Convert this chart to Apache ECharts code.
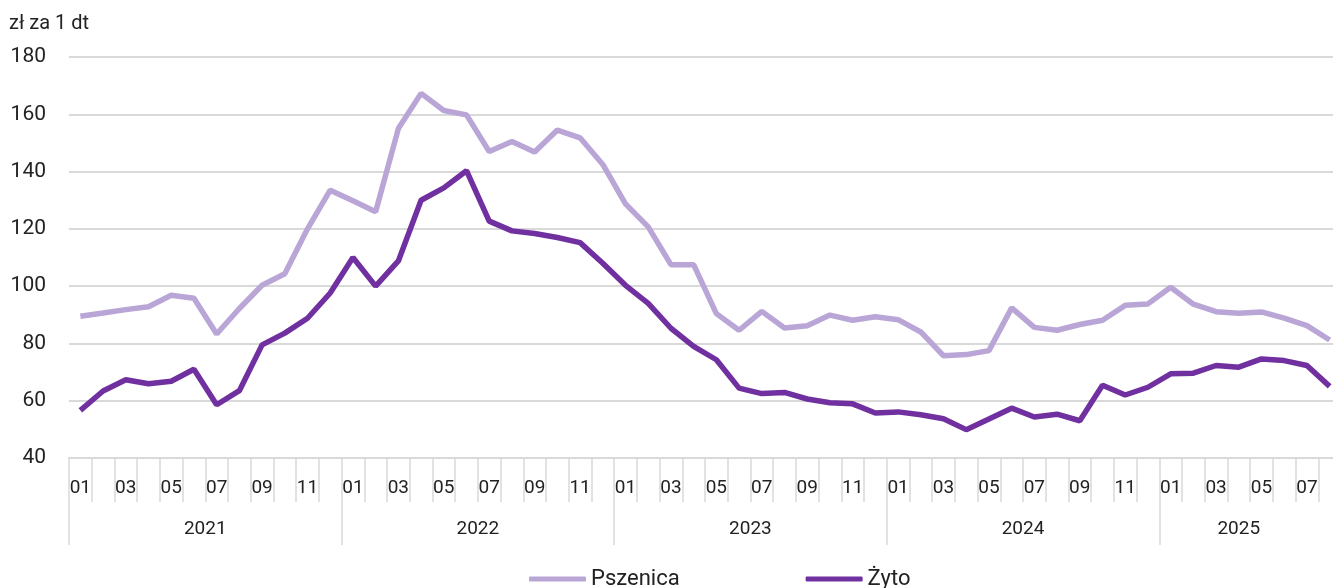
<!DOCTYPE html>
<html>
<head>
<meta charset="utf-8">
<script src="https://cdn.jsdelivr.net/npm/echarts@6/dist/echarts.min.js"></script>
<style>
  html, body { margin: 0; padding: 0; background: #fff; }
  #chart { width: 1333px; height: 588px; }
</style>
</head>
<body>
<div id="chart"></div>
<script>
// lata i liczba miesięcy w każdym roku
var years = ['2021', '2022', '2023', '2024', '2025'];
var monthsInYear = [12, 12, 12, 12, 8];
var monthNames = ['01', '02', '03', '04', '05', '06', '07', '08', '09', '10', '11', '12'];

// ceny skupu, zł za 1 dt
var pszenica = [
  89.5, 90.6, 91.8, 92.8, 96.8, 95.8, 83.3, 92.2, 100.3, 104.3,
  120, 133.5, 129.8, 126, 155, 167.3, 161.3, 159.8, 147, 150.5,
  146.8, 154.5, 151.8, 142.5, 128.7, 120.7, 107.5, 107.5, 90.4, 84.6,
  91.2, 85.4, 86.2, 89.9, 88.1, 89.3, 88.3, 84, 75.7, 76.1,
  77.5, 92.4, 85.6, 84.6, 86.6, 88.1, 93.3, 93.8, 99.6, 93.7,
  91.1, 90.5, 91, 88.8, 86.2, 81.2
];
var zyto = [
  56.6, 63.4, 67.3, 65.9, 66.8, 71, 58.6, 63.5, 79.5, 83.6,
  88.8, 97.6, 110, 100, 108.8, 130, 134.3, 140.3, 122.7, 119.3,
  118.4, 117, 115.2, 108, 100.3, 94, 85.3, 79, 74.3, 64.4,
  62.5, 62.9, 60.6, 59.3, 58.9, 55.7, 56.1, 55.1, 53.7, 49.9,
  53.6, 57.4, 54.3, 55.3, 53, 65.4, 62, 64.7, 69.4, 69.6,
  72.3, 71.7, 74.6, 74, 72.3, 65
];

// kategorie miesięczne
var months = [];
years.forEach(function (y, i) {
  for (var m = 0; m < monthsInYear[i]; m++) months.push(monthNames[m]);
});

// oś lat: pół-miesięczne kroki, etykieta roku w środku jego zakresu
var yearSlots = [];
var yearStarts = [];
var start = 0;
for (var k = 0; k <= months.length * 2; k++) yearSlots.push('');
years.forEach(function (y, i) {
  var n = monthsInYear[i] === 12 ? 12 : monthsInYear[i] - 1;
  yearStarts.push(start * 2);
  yearSlots[start * 2 + n] = y;
  start += monthsInYear[i];
});
yearStarts.push(start * 2);

var font = 'Roboto';
var chart = echarts.init(document.getElementById('chart'));
chart.setOption({
  animation: false,
  textStyle: { fontFamily: font },
  title: {
    text: 'zł za 1 dt',
    left: 4, top: 9,
    textStyle: { fontFamily: font, fontSize: 20, fontWeight: 'normal', color: '#222' }
  },
  legend: {
    left: 524, top: 563,
    icon: 'roundRect',
    itemWidth: 57, itemHeight: 5,
    itemGap: 126,
    textStyle: { fontFamily: font, fontSize: 22, color: '#222' },
    data: ['Pszenica', 'Żyto']
  },
  grid: { left: 69, top: 57, width: 1272, height: 401, outerBoundsMode: 'none' },
  xAxis: [
    {
      type: 'category',
      data: months,
      boundaryGap: true,
      axisLine: { lineStyle: { color: '#d9d9d9', width: 2 } },
      axisTick: { show: true, interval: 0, length: 44, lineStyle: { color: '#d9d9d9', width: 1.5 } },
      axisLabel: { interval: 1, margin: 21, fontSize: 19, color: '#222', fontFamily: font }
    },
    {
      type: 'category',
      data: yearSlots,
      position: 'bottom',
      boundaryGap: false,
      axisLine: { show: false },
      axisTick: {
        show: true, length: 87,
        interval: function (idx) { return yearStarts.indexOf(idx) >= 0; },
        lineStyle: { color: '#d9d9d9', width: 1.5 }
      },
      axisLabel: {
        margin: 62, fontSize: 19, color: '#222', fontFamily: font,
        interval: function (idx, val) { return val !== ''; }
      }
    }
  ],
  yAxis: {
    type: 'value',
    min: 40, max: 180, interval: 20,
    axisLine: { show: false },
    axisTick: { show: false },
    axisLabel: { margin: 23, fontSize: 21, color: '#222', fontFamily: font },
    splitLine: { lineStyle: { color: '#d9d9d9', width: 2 } }
  },
  series: [
    {
      name: 'Pszenica', type: 'line', data: pszenica, xAxisIndex: 0,
      symbol: 'none', color: '#b9a6d6',
      lineStyle: { width: 5.5, color: '#b9a6d6' }
    },
    {
      name: 'Żyto', type: 'line', data: zyto, xAxisIndex: 0,
      symbol: 'none', color: '#7030a0',
      lineStyle: { width: 5.5, color: '#7030a0' }
    }
  ]
});
</script>
</body>
</html>
